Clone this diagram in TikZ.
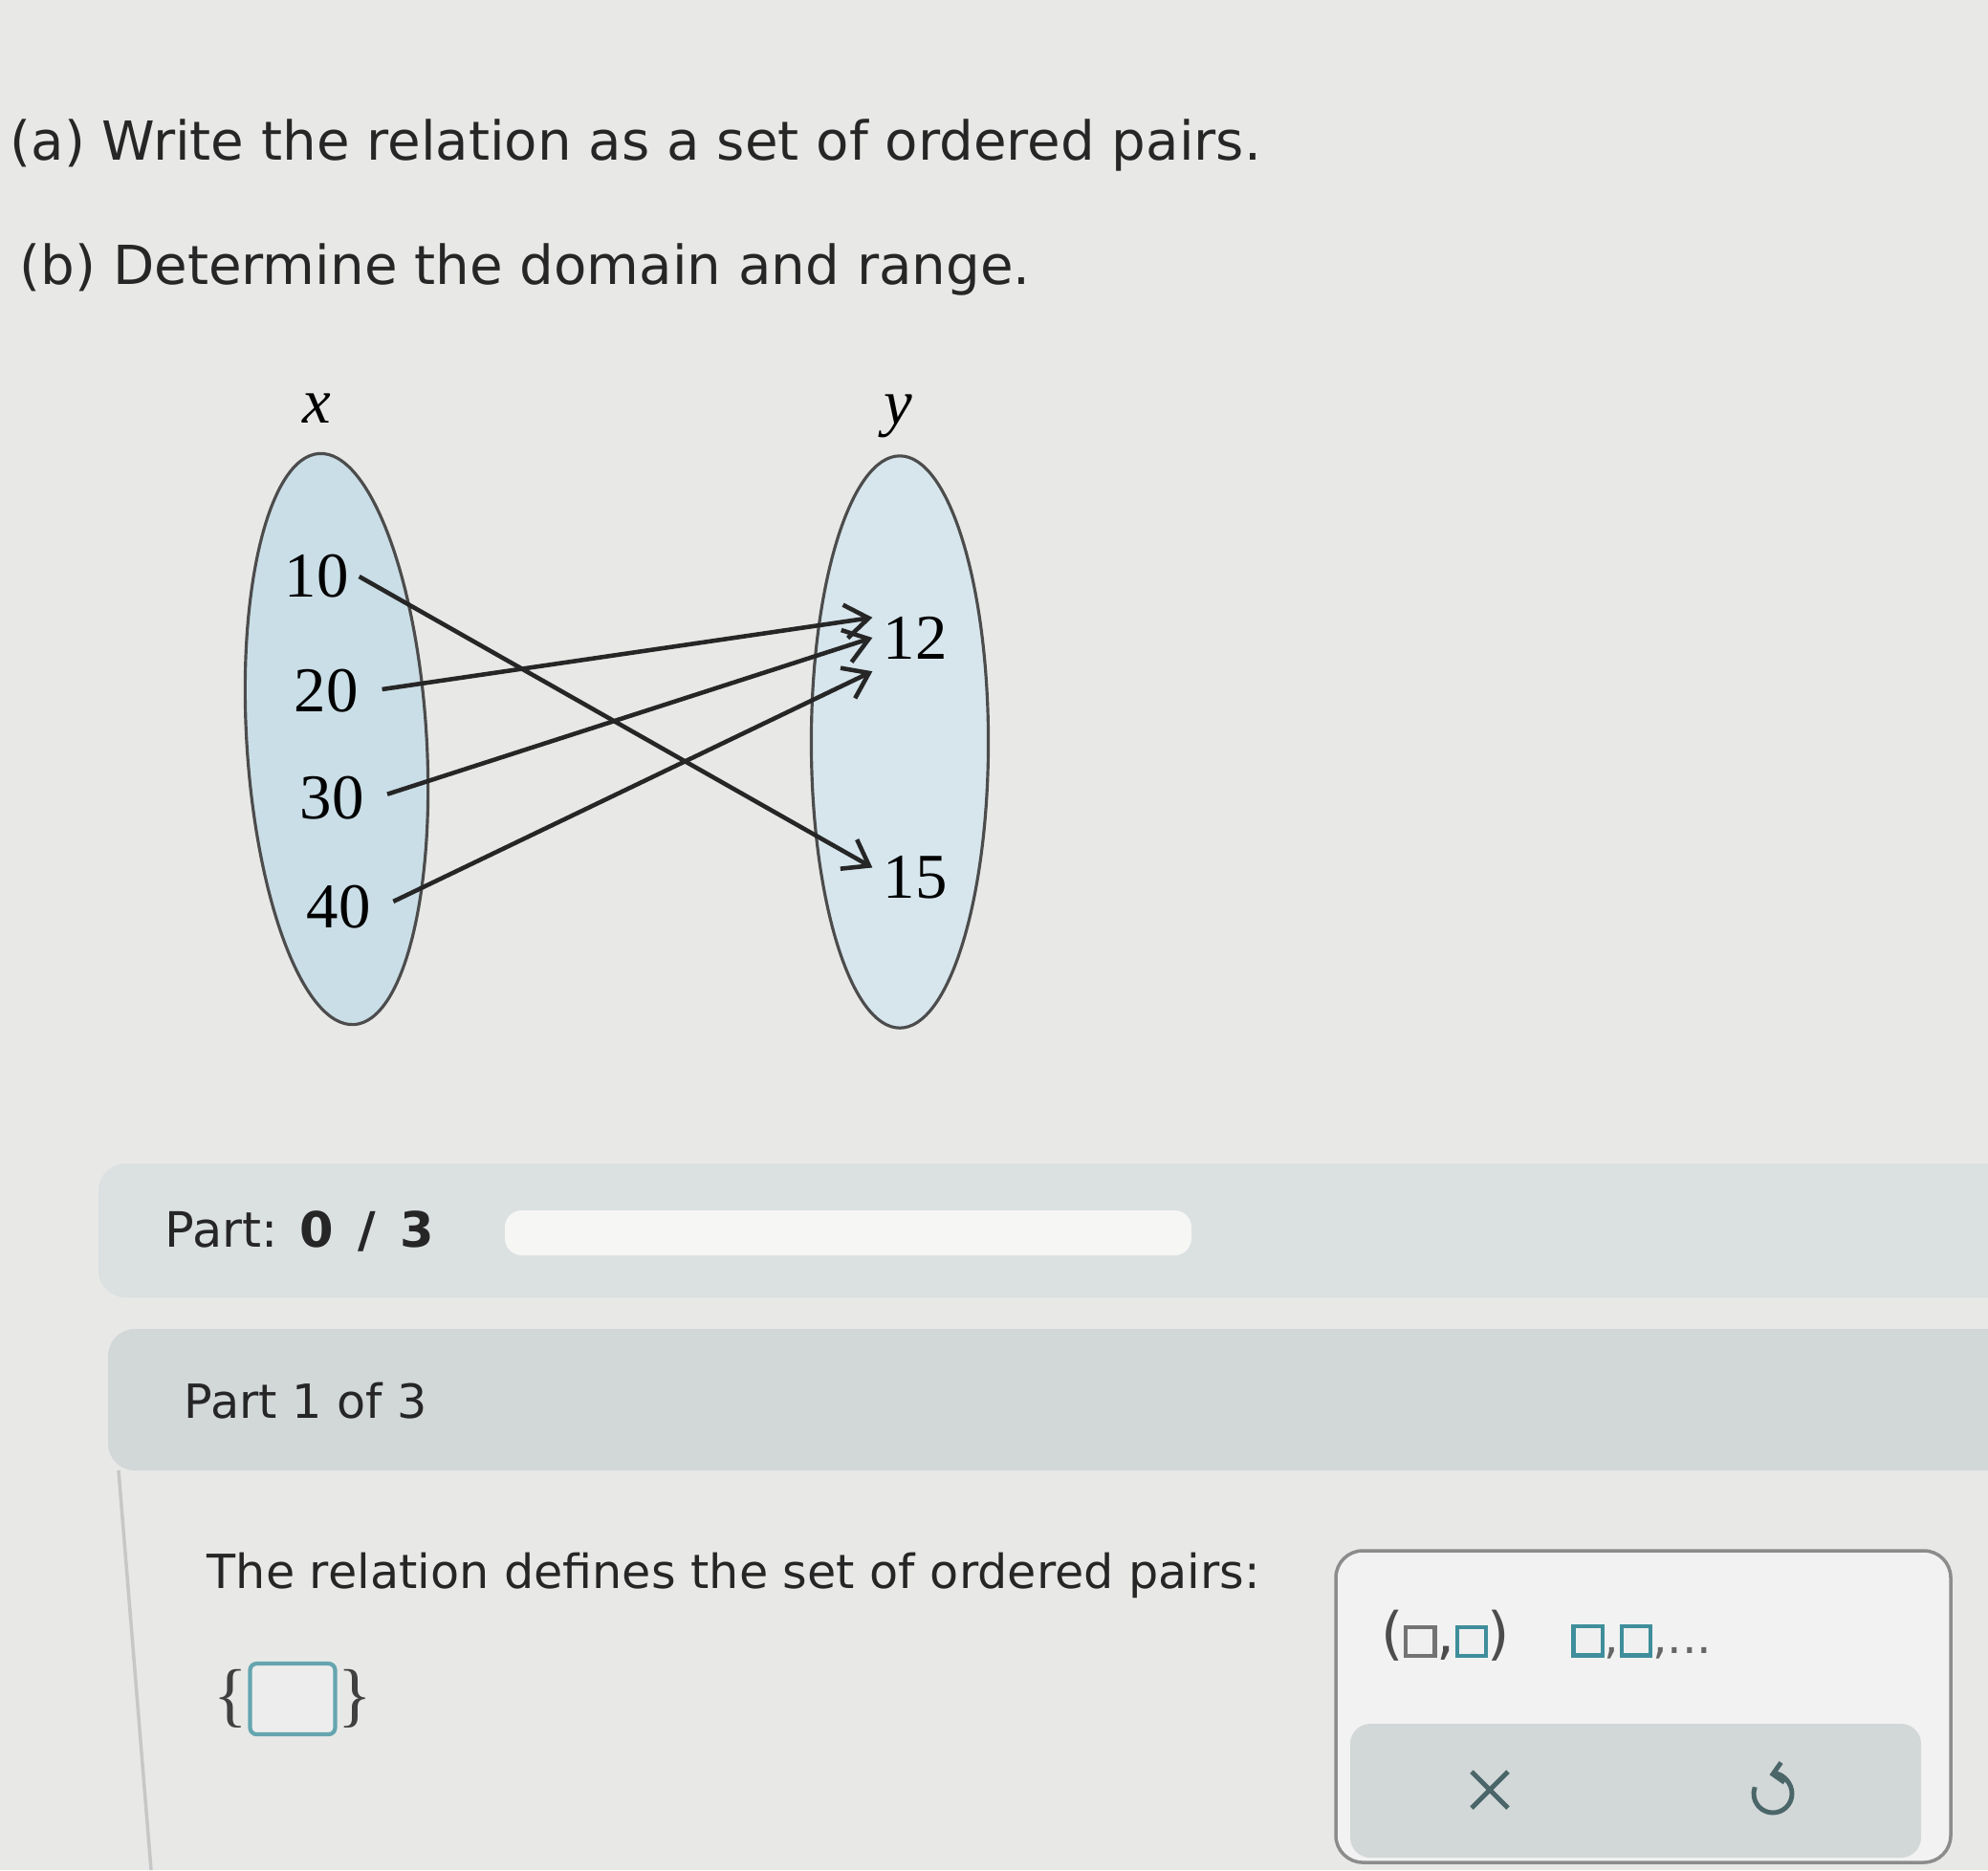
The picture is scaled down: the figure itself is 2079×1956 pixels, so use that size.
\documentclass[tikz,border=0pt]{standalone}
\usepackage{fontspec}
\setmainfont{DejaVu Sans}
\newfontfamily\bookfont{Liberation Serif}
\usetikzlibrary{arrows.meta,positioning,shapes.geometric}
\definecolor{pagebg}{HTML}{E8E9E7}
\definecolor{setblue}{HTML}{CADEE7}
\definecolor{bandone}{HTML}{DBE0E1}
\definecolor{bandtwo}{HTML}{D2D7D8}
\definecolor{slotteal}{HTML}{3F8E9B}
\definecolor{iconteal}{HTML}{4B6668}
\newcommand{\answerslot}[1]{{\setlength{\fboxrule}{1.2pt}\setlength{\fboxsep}{0pt}\fcolorbox{#1}{black!6}{\rule{0pt}{0.26cm}\hspace{0.26cm}}}}

\begin{document}
\begin{tikzpicture}[x=0.01cm,y=-0.01cm,
    setshape/.style={ellipse,draw=black!70,line width=0.9pt,fill=setblue,minimum width=1.88cm,minimum height=5.98cm},
    setname/.style={font=\bookfont\itshape\fontsize{19}{19}\selectfont},
    elem/.style={font=\bookfont\fontsize{19}{19}\selectfont,inner sep=3pt},
    mapsto/.style={draw=black!85,line width=1.3pt,-{Straight Barb[length=7pt,width=10pt]}},
    prompt/.style={font=\fontsize{14}{14}\selectfont,anchor=west,inner sep=0pt,text=black!85},
    question/.style={font=\fontsize{16}{16}\selectfont,anchor=west,inner sep=0pt,text=black!85}]
    \useasboundingbox (0,0) rectangle (2079,1956);
    \fill[pagebg] (0,0) rectangle (2079,1956);
    \node[question] (qa) at (10,152) {(a) Write the relation as a set of ordered pairs.};
    \node[question] (qb) at (20,282) {(b) Determine the domain and range.};
    % the two sets
    \node[setshape,rotate=3.5] (setX) at (352,773) {};
    \node[setshape,fill=setblue!75!white,minimum width=1.85cm] (setY) at (941,776) {};
    \node[setname] (lblx) at (331,427) {x};
    \node[setname] (lbly) at (939,435) {y};
    \node[elem] (n10) at (331,603) {10};
    \node[elem] (n20) at (341,723) {20};
    \node[elem] (n30) at (347,835) {30};
    \node[elem] (n40) at (354,949) {40};
    \node[elem] (n12) at (957,667) {12};
    \node[elem] (n15) at (957,918) {15};
    \draw[mapsto] (n10.east) -- ([yshift=3pt]n15.west);
    \draw[mapsto,shorten <=4pt] (n20.east) -- ([yshift=6pt]n12.west);
    \draw[mapsto,shorten <=4pt] (n30.east) -- (n12.west);
    \draw[mapsto,shorten <=4pt] (n40.east) -- ([yshift=-10pt]n12.west);
    % progress bands
    \fill[bandone,rounded corners=8pt] (103,1217) rectangle (2120,1357);
    \fill[pagebg!40!white,rounded corners=5pt] (528,1266) rectangle (1246,1313);
    \node[prompt,font=\fontsize{14.5}{14.5}\selectfont] (partcount) at (172,1288) {Part:\hspace{0.45em}\textbf{0\hspace{0.5em}/\hspace{0.5em}3}};
    \fill[bandtwo,rounded corners=8pt] (113,1390) rectangle (2120,1538);
    \node[prompt] (partno) at (192,1465) {Part 1 of 3};
    \draw[black!22,line width=1pt] (124,1538) -- (158,1956);
    \node[prompt] (relq) at (216,1648) {The relation defines the set of ordered pairs:};
    \node[draw=slotteal!80,line width=1.2pt,fill=black!7,rounded corners=2pt,minimum width=0.89cm,minimum height=0.74cm] (ansbox) at (306,1777) {};
    \node[font=\bookfont\fontsize{21}{21}\selectfont,text=black!75,inner sep=0pt,left=0pt of ansbox] (lbrace) {\{};
    \node[font=\bookfont\fontsize{21}{21}\selectfont,text=black!75,inner sep=0pt,right=0pt of ansbox] (rbrace) {\}};
    % palette
    \draw[black!45,fill=pagebg!60!white,rounded corners=8pt,line width=1pt] (1397,1622) rectangle (2040,1948);
    \fill[bandtwo,rounded corners=6pt] (1412,1803) rectangle (2009,1943);
    \node[font=\fontsize{17}{17}\selectfont,text=black!70] (pairtpl) at (1512,1711) {(\answerslot{black!55},\answerslot{slotteal})};
    \node[font=\fontsize{14}{14}\selectfont,text=black!60] (listtpl) at (1717,1717) {\answerslot{slotteal},\answerslot{slotteal},...};
    \coordinate (clearbtn) at (1558,1872);
    \coordinate (undobtn) at (1854,1876);
    \draw[iconteal,line width=1.4pt] ([shift={(-19,-19)}]clearbtn) -- ([shift={(19,19)}]clearbtn);
    \draw[iconteal,line width=1.4pt] ([shift={(19,-19)}]clearbtn) -- ([shift={(-19,19)}]clearbtn);
    \draw[iconteal,line width=1.4pt,{Straight Barb[length=3pt,width=6pt]}-] (undobtn) ++(-100:20) arc[start angle=-100,end angle=200,radius=20];
\end{tikzpicture}
\end{document}
